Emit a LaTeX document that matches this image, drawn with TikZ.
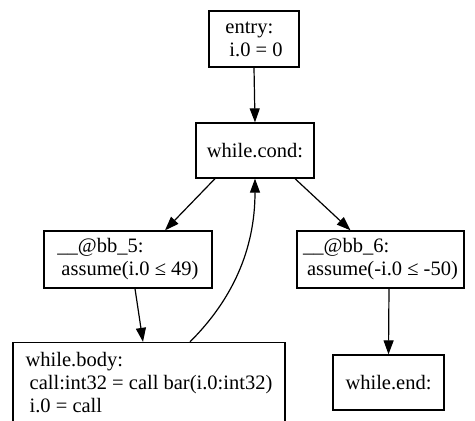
\documentclass[tikz,border=0pt]{standalone}
\usepackage{fontspec}
\setmainfont{Liberation Serif}
\usetikzlibrary{arrows.meta}
\begin{document}
\begin{tikzpicture}[x=1pt,y=1pt,
  blk/.style={draw=black,line width=1.3pt,rectangle,align=left,inner sep=0pt,
    font=\fontsize{20.5}{23}\selectfont},
  edge/.style={line width=1.2pt,-{Triangle[length=14pt,width=10pt]}}]
\clip (0,0) rectangle (475,-421);
\fill[white] (0,0) rectangle (475,-421);
\node[blk,minimum width=90,minimum height=56] (entry) at (254,-39) {entry:\\\hspace*{4pt}i.0 = 0};
\node[blk,minimum width=118,minimum height=55] (cond) at (255,-150.5) {while.cond:};
\node[blk,minimum width=168,minimum height=57] (bb5) at (128,-259.5) {\_\_@bb\_5:\\\hspace*{4pt}assume(i.0 ≤ 49)};
\node[blk,minimum width=167,minimum height=57] (bb6) at (380.5,-259.5) {\_\_@bb\_6:\\\hspace*{4pt}assume(-i.0 ≤ -50)};
\node[blk,minimum width=272,minimum height=80] (body) at (149,-382.5) {while.body:\\\hspace*{4pt}call:int32 = call bar(i.0:int32)\\\hspace*{4pt}i.0 = call};
\node[blk,minimum width=111,minimum height=55] (wend) at (388.5,-382.5) {while.end:};
\draw[edge] (entry.south) -- (cond.north);
\draw[edge] ([xshift=-40pt]cond.south) -- ([xshift=37pt]bb5.north);
\draw[edge] ([xshift=40pt]cond.south) -- ([xshift=-30pt]bb6.north);
\draw[edge] ([xshift=7pt]bb5.south) -- ([xshift=-6pt]body.north);
\draw[edge] ([xshift=41pt]body.north) .. controls (232,-300) and (255,-250) .. (cond.south);
\draw[edge] ([xshift=8.5pt]bb6.south) -- (wend.north);
\end{tikzpicture}
\end{document}
